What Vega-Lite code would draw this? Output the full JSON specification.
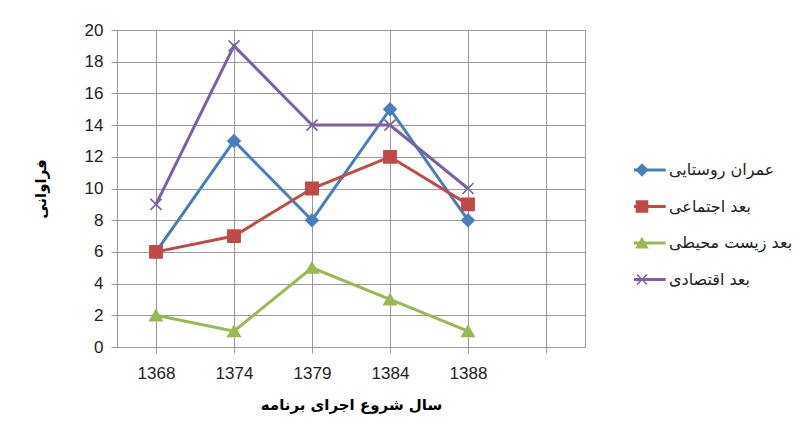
{
  "$schema": "https://vega.github.io/schema/vega-lite/v6.json",
  "width": 468,
  "height": 317,
  "autosize": {"type": "none"},
  "padding": {"left": 117, "top": 30, "right": 224, "bottom": 88},
  "background": "white",
  "config": {
    "view": {"stroke": "#9a9a9a", "strokeWidth": 1},
    "font": "Liberation Sans"
  },
  "data": {
    "values": [
      {"year": "1368", "series": "عمران روستایی", "value": 6},
      {"year": "1374", "series": "عمران روستایی", "value": 13},
      {"year": "1379", "series": "عمران روستایی", "value": 8},
      {"year": "1384", "series": "عمران روستایی", "value": 15},
      {"year": "1388", "series": "عمران روستایی", "value": 8},
      {"year": "1368", "series": "بعد اجتماعی", "value": 6},
      {"year": "1374", "series": "بعد اجتماعی", "value": 7},
      {"year": "1379", "series": "بعد اجتماعی", "value": 10},
      {"year": "1384", "series": "بعد اجتماعی", "value": 12},
      {"year": "1388", "series": "بعد اجتماعی", "value": 9},
      {"year": "1368", "series": "بعد زیست محیطی", "value": 2},
      {"year": "1374", "series": "بعد زیست محیطی", "value": 1},
      {"year": "1379", "series": "بعد زیست محیطی", "value": 5},
      {"year": "1384", "series": "بعد زیست محیطی", "value": 3},
      {"year": "1388", "series": "بعد زیست محیطی", "value": 1},
      {"year": "1368", "series": "بعد اقتصادی", "value": 9},
      {"year": "1374", "series": "بعد اقتصادی", "value": 19},
      {"year": "1379", "series": "بعد اقتصادی", "value": 14},
      {"year": "1384", "series": "بعد اقتصادی", "value": 14},
      {"year": "1388", "series": "بعد اقتصادی", "value": 10}
    ]
  },
  "encoding": {
    "x": {
      "field": "year",
      "type": "ordinal",
      "scale": {"domain": ["1368", "1374", "1379", "1384", "1388", " "], "paddingInner": 0, "paddingOuter": 0},
      "axis": {
        "title": "سال شروع اجرای برنامه",
        "titleFont": "DejaVu Sans",
        "titleFontSize": 15,
        "titleFontWeight": "bold",
        "titleColor": "#000",
        "titlePadding": 16,
        "bandPosition": 0,
        "grid": true,
        "gridColor": "#9a9a9a",
        "domainColor": "#9a9a9a",
        "tickColor": "#9a9a9a",
        "tickSize": 6,
        "labelAngle": 0,
        "labelFontSize": 17,
        "labelColor": "#222",
        "labelPadding": 12,
        "labelBound": false
      }
    },
    "y": {
      "field": "value",
      "type": "quantitative",
      "scale": {"domain": [0, 20]},
      "axis": {
        "title": "فراوانی",
        "titleFont": "DejaVu Sans",
        "titleFontSize": 15,
        "titleFontWeight": "bold",
        "titleColor": "#000",
        "titlePadding": 36,
        "values": [0, 2, 4, 6, 8, 10, 12, 14, 16, 18, 20],
        "grid": true,
        "gridColor": "#9a9a9a",
        "domainColor": "#9a9a9a",
        "tickColor": "#9a9a9a",
        "tickSize": 6,
        "labelFontSize": 17,
        "labelColor": "#222",
        "labelPadding": 8
      }
    }
  },
  "layer": [
    {
      "mark": {"type": "line", "strokeWidth": 3},
      "encoding": {
        "stroke": {
          "field": "series",
          "type": "nominal",
          "sort": ["عمران روستایی", "بعد اجتماعی", "بعد زیست محیطی", "بعد اقتصادی"],
          "scale": {"range": ["#4a7ebb", "#be4b48", "#98b954", "#7d60a0"]},
          "legend": {
            "title": null,
            "orient": "none",
            "legendX": 517,
            "legendY": 131,
            "padding": 0,
            "symbolType": "M-4.3,0L4.3,0",
            "symbolSize": 121,
            "symbolStrokeWidth": 3,
            "labelOffset": 19,
            "labelFont": "DejaVu Sans",
            "labelFontSize": 16,
            "labelColor": "#222",
            "clipHeight": 18,
            "rowPadding": 18.5
          }
        }
      }
    },
    {
      "mark": {"type": "point", "size": 150, "strokeWidth": 1.6, "opacity": 1, "filled": true},
      "encoding": {
        "color": {
          "field": "series",
          "type": "nominal",
          "scale": {
            "domain": ["عمران روستایی", "بعد اجتماعی", "بعد زیست محیطی", "بعد اقتصادی"],
            "range": ["#4a7ebb", "#be4b48", "#98b954", "#7d60a0"]
          },
          "legend": {
            "title": null,
            "orient": "none",
            "legendX": 517,
            "legendY": 131,
            "padding": 0,
            "symbolSize": 121,
            "symbolStrokeWidth": 1.6,
            "symbolOpacity": 1,
            "labelOffset": 19,
            "labelFont": "DejaVu Sans",
            "labelFontSize": 16,
            "labelColor": "transparent",
            "clipHeight": 18,
            "rowPadding": 18.5,
            "encode": {
              "symbols": {
                "update": {
                  "stroke": {"scale": "color", "field": "value"},
                  "strokeWidth": {"value": 1.6}
                }
              }
            }
          }
        },
        "shape": {
          "field": "series",
          "type": "nominal",
          "scale": {
            "domain": ["عمران روستایی", "بعد اجتماعی", "بعد زیست محیطی", "بعد اقتصادی"],
            "range": ["diamond", "square", "triangle-up", "M-0.9,-0.9L0.9,0.9M-0.9,0.9L0.9,-0.9"]
          },
          "legend": null
        },
        "stroke": {
          "field": "series",
          "type": "nominal",
          "sort": ["عمران روستایی", "بعد اجتماعی", "بعد زیست محیطی", "بعد اقتصادی"]
        }
      }
    }
  ]
}
